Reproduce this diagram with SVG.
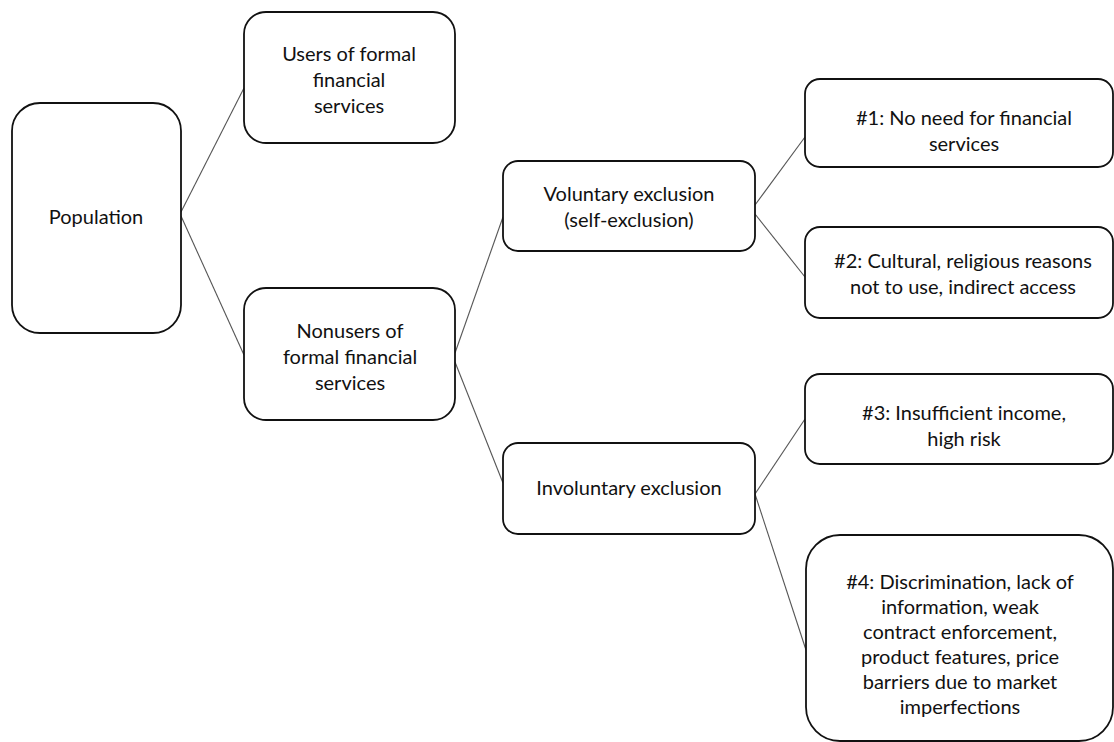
<svg xmlns="http://www.w3.org/2000/svg" width="1114" height="742" viewBox="0 0 1114 742">
<style>
.box{fill:#fff;stroke:#111;stroke-width:1.8}
.lbl{font-family:Lato,"Liberation Sans",sans-serif;font-size:20px;fill:#111;text-anchor:middle}
.con line{stroke:#555;stroke-width:1.1}
</style>
<rect width="1114" height="742" fill="#fff"/>
<g class="con" id="connectors">
<line x1="181" y1="212" x2="244" y2="88"/>
<line x1="181" y1="216" x2="244" y2="355"/>
<line x1="455" y1="353" x2="503" y2="217"/>
<line x1="455" y1="362" x2="503" y2="483"/>
<line x1="755" y1="205" x2="805" y2="137"/>
<line x1="755" y1="214" x2="805" y2="277"/>
<line x1="755" y1="494" x2="805" y2="419"/>
<line x1="755" y1="494" x2="806" y2="650"/>
</g>
<g id="population">
<rect class="box" x="12" y="103" width="169" height="230" rx="28"/>
<text class="lbl" x="96" y="224">Population</text>
</g>
<g id="users">
<rect class="box" x="244" y="12" width="211" height="131" rx="22"/>
<text class="lbl" x="349" y="61">Users of formal</text>
<text class="lbl" x="349" y="87">financial</text>
<text class="lbl" x="349" y="113">services</text>
</g>
<g id="nonusers">
<rect class="box" x="244" y="288" width="211" height="132" rx="22"/>
<text class="lbl" x="350" y="338">Nonusers of</text>
<text class="lbl" x="350" y="364">formal financial</text>
<text class="lbl" x="350" y="390">services</text>
</g>
<g id="voluntary">
<rect class="box" x="503" y="161" width="252" height="90" rx="15"/>
<text class="lbl" x="629" y="201">Voluntary exclusion</text>
<text class="lbl" x="629" y="227">(self-exclusion)</text>
</g>
<g id="involuntary">
<rect class="box" x="503" y="443" width="252" height="91" rx="15"/>
<text class="lbl" x="629" y="495">Involuntary exclusion</text>
</g>
<g id="reason1">
<rect class="box" x="805" y="79" width="308" height="88" rx="15"/>
<text class="lbl" x="964" y="125">#1: No need for financial</text>
<text class="lbl" x="964" y="151">services</text>
</g>
<g id="reason2">
<rect class="box" x="805" y="227" width="308" height="91" rx="15"/>
<text class="lbl" x="963" y="268">#2: Cultural, religious reasons</text>
<text class="lbl" x="963" y="294">not to use, indirect access</text>
</g>
<g id="reason3">
<rect class="box" x="805" y="374" width="308" height="90" rx="15"/>
<text class="lbl" x="964" y="420">#3: Insufficient income,</text>
<text class="lbl" x="964" y="446">high risk</text>
</g>
<g id="reason4">
<rect class="box" x="806" y="535" width="307" height="206" rx="34"/>
<text class="lbl" x="960" y="589">#4: Discrimination, lack of</text>
<text class="lbl" x="960" y="614">information, weak</text>
<text class="lbl" x="960" y="639">contract enforcement,</text>
<text class="lbl" x="960" y="664">product features, price</text>
<text class="lbl" x="960" y="689">barriers due to market</text>
<text class="lbl" x="960" y="714">imperfections</text>
</g>
</svg>
